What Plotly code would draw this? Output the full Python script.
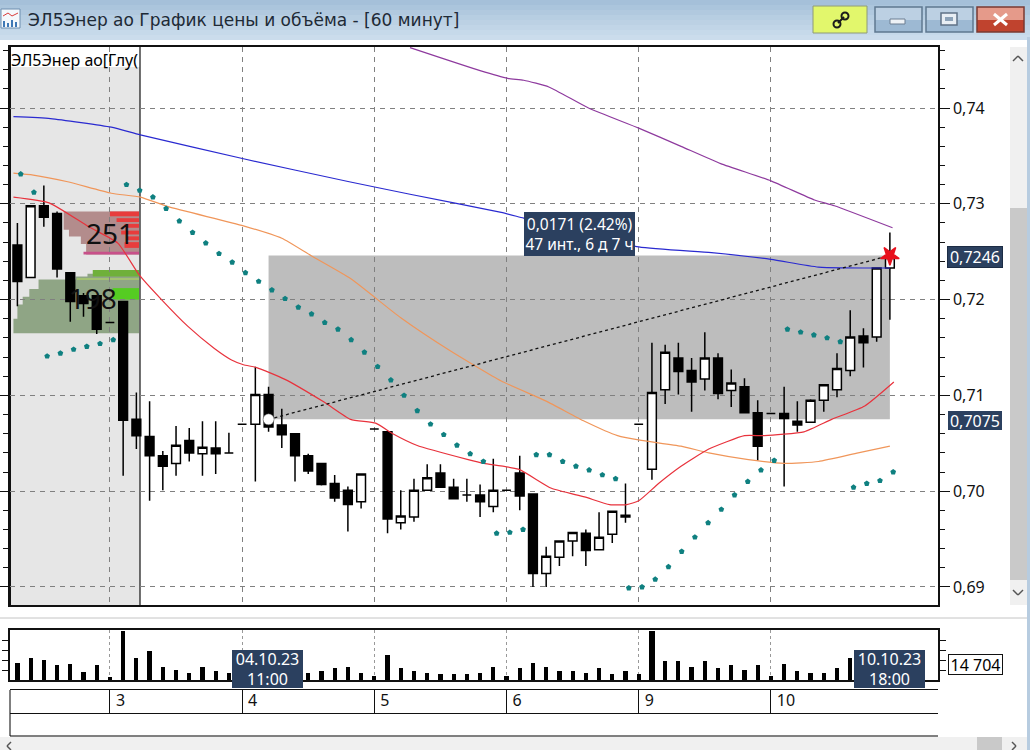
import plotly.graph_objects as go

W, H = 1030, 750

# OHLC, one candle per hour, index 0..66
opens = [.7257, .7223, .7298, .7290, .7228, .7204, .7204, .7176, .7198, .7075,
         .7057, .7037, .7029, .7053, .7039, .7045, .7040, .7070, .7070, .7101,
         .7069, .7060, .7037, .7029, .7008, .7001, .6989, .7065, .7062, .6967,
         .6973, .7001, .7019, .7004, .6996, .6996, .6984, .7001, .7019, .6997,
         .6914, .6931, .6948, .6956, .6939, .6955, .6975, .7070, .7023, .7106,
         .7139, .7126, .7117, .7139, .7105, .7109, .7082, .7081, .7081, .7073,
         .7072, .7095, .7106, .7126, .7162, .7161, .7233]
highs = [.7280, .7298, .7319, .7292, .7228, .7207, .7204, .7176, .7198, .7103,
         .7094, .7042, .7068, .7066, .7073, .7073, .7061, .7070, .7130, .7109,
         .7086, .7060, .7039, .7029, .7017, .7005, .7018, .7065, .7062, .7001,
         .7013, .7028, .7028, .7013, .7013, .7007, .7034, .7001, .7037, .6997,
         .6942, .6948, .6957, .6960, .6978, .6979, .7008, .7070, .7155, .7153,
         .7155, .7139, .7166, .7144, .7127, .7118, .7095, .7081, .7109, .7094,
         .7096, .7111, .7144, .7189, .7170, .7233, .7270]
lows = [.7193, .7223, .7276, .7223, .7177, .7182, .7164, .7176, .7016, .7044,
        .6990, .7001, .7016, .7031, .7016, .7018, .7040, .7070, .7010, .7062,
        .7045, .7010, .7018, .7006, .6989, .6958, .6982, .7065, .6956, .6960,
        .6968, .7001, .7004, .6992, .6989, .6973, .6978, .7001, .6980, .6900,
        .6900, .6922, .6932, .6922, .6939, .6946, .6967, .7070, .7012, .7091,
        .7101, .7083, .7105, .7096, .7088, .7082, .7032, .7081, .7005, .7062,
        .7072, .7083, .7098, .7120, .7129, .7156, .7179]
closes = [.7219, .7298, .7286, .7232, .7198, .7196, .7169, .7176, .7074, .7058,
          .7037, .7026, .7048, .7040, .7046, .7039, .7040, .7070, .7101, .7067,
          .7059, .7037, .7021, .7007, .6993, .6986, .7018, .7065, .6971, .6974,
          .7001, .7014, .7004, .6992, .6996, .6989, .7001, .7001, .6995, .6914,
          .6932, .6948, .6957, .6938, .6952, .6979, .6973, .7070, .7103, .7145,
          .7125, .7114, .7139, .7102, .7113, .7082, .7047, .7081, .7076, .7069,
          .7095, .7111, .7128, .7161, .7155, .7233, .7244]
volumes = [17300, 21900, 20600, 14700, 16000, 8500, 15400, 2900, 49000, 22200,
           29800, 13400, 10100, 7500, 13400, 9200, 7500, 3000, 12000, 10000,
           8000, 9000, 7500, 8800, 11800, 13400, 7500, 4300, 24900, 11800,
           8800, 7500, 6200, 6200, 6200, 7500, 13400, 4300, 11800, 17300,
           13400, 8800, 8800, 7500, 11800, 5900, 8800, 5900, 50000, 19000,
           19000, 13400, 19000, 11800, 14700, 10100, 14700, 4300, 16400, 8800,
           7500, 7500, 11800, 21900, 12000, 25000, 14704]

# moving averages, read at bends of each line
red_x = [-0.3, 2.4, 5.4, 7.6, 9.2, 10.9, 12.9, 14.9, 16.2, 17.1, 18.1, 20.2, 23.2, 25.2, 27.1, 28.4, 30.2,
         34.1, 35.3, 37.9, 40.4, 42.9, 44.8, 46.1, 47, 48.5, 50.2, 52.3, 55, 56.5, 59.5, 61.6, 64.1, 66.3]
red_y = [.7307, .7301, .7276, .7259, .7226, .7200, .7172, .7149, .7137, .7132, .7129, .7117, .7093, .7075, .7071, .7060, .7048,
         .7033, .7029, .7023, .7003, .6994, .6986, .6986, .6990, .7008, .7026, .7044, .7058, .7058, .7062, .7075, .7089, .7114]
orange_x = [-0.3, 1.2, 3.8, 7.1, 9.3, 11.4, 17.1, 20, 22.2, 25.2, 29, 32.8, 36.6, 40, 42.9, 45.4, 47.2, 50.2,
            52.3, 55.3, 58, 60.6, 63.6, 66]
orange_y = [.7332, .7330, .7323, .7311, .7307, .7297, .7277, .7264, .7246, .7222, .7181, .7146, .7115, .7094, .7073, .7058, .7053, .7047,
            .7040, .7033, .7029, .7031, .7040, .7047]
blue_x = [-0.3, 2.5, 7.1, 9.3, 17.1, 25.1, 29.7, 36.6, 38.3, 47, 52.5, 57, 60.6, 66]
blue_y = [.7391, .7389, .7380, .7372, .7347, .7323, .7310, .7291, .7285, .7255, .7249, .7242, .7234, .7233]
purple_x = [29.7, 35, 37.1, 38.3, 40.2, 43.2, 47, 50.2, 53.2, 57, 60.3, 61.8, 66.2]
purple_y = [.7463, .7439, .7431, .7429, .7422, .7400, .7379, .7360, .7342, .7324, .7304, .7298, .7275]

# parabolic SAR dots
sar_i = [0, 1, 2, 3, 4, 5, 6, 7, 8, 9, 10, 11, 12, 13, 14, 15, 16, 17, 18, 19, 20, 21, 22, 23, 24, 25,
         26, 27, 28, 29, 30, 31, 32, 33, 34, 35, 36, 37, 38, 39, 40, 41, 42, 43, 44, 45,
         46, 47, 48, 49, 50, 51, 52, 53, 54, 55, 56, 57, 58, 59, 60, 61, 62, 63, 64, 65, 66]
sar_y = [.7331, .7312, .7141, .7144, .7148, .7151, .7154, .7158, .7320, .7314, .7307, .7295, .7282, .7270,
         .7259, .7248, .7239, .7228, .7219, .7210, .7201, .7192, .7185, .7176, .7169, .7158,
         .7145, .7130, .7116, .7100, .7084, .7070, .7059, .7048, .7039, .7031, .6956, .6957, .6960,
         .7038, .7038, .7031, .7026, .7022, .7017, .7013,
         .6899, .6900, .6908, .6921, .6937, .6952, .6967, .6981, .6996, .7010, .7022, .7032,
         .7169, .7166, .7163, .7160, .7156, .7004, .7008, .7011, .7020]

# order book profile at the left edge
ask_x = [9.2, 3.5, 3.5, 3.9, 3.9, 4.8, 4.8, 5.2, 5.2, 9.2]
ask_y = [.7292, .7292, .7273, .7273, .7266, .7266, .7258, .7258, .7247, .7247]
bid_x = [9.2, -0.3, -0.3, 0.0, 0.0, 0.4, 0.4, 0.9, 0.9, 1.6, 1.6, 4.4, 4.4, 5.3, 5.3, 5.8, 5.8, 9.2]
bid_y = [.7165, .7165, .7180, .7180, .7195, .7195, .7203, .7203, .7211, .7211, .7221, .7221, .7224, .7224, .7227, .7227, .7231, .7231]
stripe_left = [7.0, 7.5, 8.1, 7.85, 8.3, 8.1, 5.0, 5.7, 4.5, 7.2]
stripe_top = [.7292, .7285, .7279, .7272, .7266, .7260, .7250, .7231, .7222, .7212]
stripe_bottom = [.7287, .7281, .7275, .7268, .7262, .7254, .7247, .7224, .7221, .7200]
stripe_color = ["#e83c3c"] * 6 + ["#c8508a", "#6fb03a", "#b8e060", "#55cc22"]
profile_right = 9.2

price_ticks = [.69, .70, .71, .72, .73, .74]
price_labels = ["0,69", "0,70", "0,71", "0,72", "0,73", "0,74"]
day_starts = [7, 17, 27, 37, 47, 57]
day_labels = ["3", "4", "5", "6", "9", "10"]

# measured segment
seg_x = [19, 66]
seg_y = [.7075, .7246]

INDEX = list(range(len(closes)))
X_RANGE = [-0.56, 69.64]
PLOT_X = [10 / W, 938 / W]
FONT = "Noto Sans"
NAVY = "#2b405f"
GRID = "#808080"


def px_rect(x0, y0, x1, y1, fill=None, line=None, width=1):
    """прямоугольник в пикселях окна"""
    return dict(type="rect", xref="paper", yref="paper", layer="below",
                x0=x0 / W, x1=x1 / W, y0=1 - y0 / H, y1=1 - y1 / H,
                fillcolor=fill or "rgba(0,0,0,0)",
                line=dict(color=line or "rgba(0,0,0,0)", width=width if line else 0))


def px_line(x0, y0, x1, y1, color="#000000", width=1):
    return dict(type="line", xref="paper", yref="paper", layer="below",
                x0=x0 / W, x1=x1 / W, y0=1 - y0 / H, y1=1 - y1 / H,
                line=dict(color=color, width=width))


def px_text(x, y, text, size=14, color="#000000", anchor="left", bg=None, border=None, w=None, h=None, family=FONT):
    return dict(xref="paper", yref="paper", x=x / W, y=1 - y / H, text=text, showarrow=False,
                xanchor=anchor, yanchor="middle", align="center", width=w, height=h,
                font=dict(family=family, size=size, color=color),
                bgcolor=bg, bordercolor=border, borderwidth=1 if border else 0, borderpad=0)


def domain_y(top, bottom):
    return [1 - bottom / H, 1 - top / H]


def chrome_shapes():
    """заголовок окна, кнопки и полосы прокрутки"""
    s = []
    # title bar gradient
    bands = ["#a5c0d9", "#abc5dc", "#b1c9df", "#b7cee2", "#bcd1e4", "#c1d5e7", "#c6d9ea", "#cbdcec"]
    for k, c in enumerate(bands):
        s.append(px_rect(0, k * 5, W, (k + 1) * 5, fill=c))
    # window icon
    s.append(px_rect(1, 9, 20, 28, fill="#f4f8fc", line="#6f8fb0"))
    s.append(px_line(3, 16, 8, 13, "#d83a3a", 1))
    s.append(px_line(8, 13, 12, 16, "#d83a3a", 1))
    s.append(px_line(12, 16, 18, 13, "#d83a3a", 1))
    for bx, top in [(4, 21), (8, 23), (12, 20), (16, 22)]:
        s.append(px_line(bx, top, bx, 27, "#3f78b5", 2))
    # link button
    s.append(px_rect(813, 6, 867, 33, fill="#e2f76c", line="#8e9a78"))
    s.append(px_line(838, 23, 844, 17, "#1c1c1c", 2))
    for cx, cy in [(837, 24), (845, 16)]:
        s.append(dict(type="circle", xref="paper", yref="paper", layer="below",
                      x0=(cx - 3.5) / W, x1=(cx + 3.5) / W, y0=1 - (cy + 3.5) / H, y1=1 - (cy - 3.5) / H,
                      line=dict(color="#1c1c1c", width=2)))
    # min / max / close
    for x0, x1, top, low, edge in [(875, 922, "#bcd0e3", "#9db9d3", "#5f7890"),
                                   (926, 973, "#bcd0e3", "#9db9d3", "#5f7890"),
                                   (977, 1024, "#e59a8a", "#c0432e", "#7a3a32")]:
        s.append(px_rect(x0, 7, x1, 20, fill=top))
        s.append(px_rect(x0, 20, x1, 32, fill=low))
        s.append(px_rect(x0, 7, x1, 32, line=edge, width=1.5))
    s.append(px_rect(890, 19, 905, 24, fill="#eef2f6", line="#6d7f92"))
    s.append(px_rect(941, 13, 957, 25, fill="#e8eef4", line="#5f7286", width=1.5))
    s.append(px_rect(945, 17, 953, 21, fill="#8ca2b8"))
    s.append(px_line(994, 14, 1007, 25, "#ffffff", 3))
    s.append(px_line(1007, 14, 994, 25, "#ffffff", 3))
    # right border and scrollbars
    s.append(px_rect(1027, 37, W, H, fill="#b7cce0"))
    s.append(px_rect(1010, 47, 1027, 605, fill="#f0f0f0"))
    s.append(px_rect(1010, 208, 1027, 580, fill="#c9c9c9"))
    s.append(px_line(1013, 61, 1018, 56, "#555555", 1.5))
    s.append(px_line(1018, 56, 1023, 61, "#555555", 1.5))
    s.append(px_line(1013, 590, 1018, 595, "#555555", 1.5))
    s.append(px_line(1018, 595, 1023, 590, "#555555", 1.5))
    s.append(px_line(0, 618, 1027, 618, "#c4c4c4", 1))
    s.append(px_rect(0, 737, 1027, H, fill="#f0f0f0"))
    s.append(px_rect(977, 737, 1002, H, fill="#c9c9c9"))
    s.append(px_line(11, 742, 7, 746, "#555555", 1.5))
    s.append(px_line(7, 746, 11, 750, "#555555", 1.5))
    s.append(px_line(1012, 742, 1016, 746, "#555555", 1.5))
    s.append(px_line(1016, 746, 1012, 750, "#555555", 1.5))
    # rows under the volume pane
    s.append(px_line(10, 690, 10, 736, "#000000", 1))
    s.append(px_line(10, 736, 938, 736, "#000000", 1))
    return s


def profile_shapes():
    """серый фон слева, стакан и выделенный диапазон"""
    s = [px_rect(10, 67, 140, 605, fill="#e6e6e6")]
    s.append(dict(type="rect", xref="x", yref="y", layer="below",
                  x0=seg_x[0], x1=seg_x[1], y0=seg_y[0], y1=seg_y[1],
                  fillcolor="#bdbdbd", line=dict(width=0)))
    for xs, ys, color in [(ask_x, ask_y, "#b38c8c"), (bid_x, bid_y, "#8fa585")]:
        path = "M " + " L ".join(f"{a} {b}" for a, b in zip(xs, ys)) + " Z"
        s.append(dict(type="path", xref="x", yref="y", layer="below", path=path,
                      fillcolor=color, line=dict(width=0)))
    for left, top, bottom, color in zip(stripe_left, stripe_top, stripe_bottom, stripe_color):
        s.append(dict(type="rect", xref="x", yref="y", layer="below",
                      x0=left, x1=profile_right, y0=bottom, y1=top,
                      fillcolor=color, line=dict(width=0)))
    # cursor line of the book, thick left frame
    s.append(px_line(140, 47, 140, 605, "#111111", 1.2))
    s.append(px_line(10, 47, 10, 606, "#111111", 2))
    return s


fig = go.Figure()

fig.add_trace(go.Candlestick(
    x=INDEX, open=opens, high=highs, low=lows, close=closes,
    increasing=dict(line=dict(color="#000000", width=1.5), fillcolor="#ffffff"),
    decreasing=dict(line=dict(color="#000000", width=1.5), fillcolor="#000000"),
    whiskerwidth=0, showlegend=False, hoverinfo="skip",
))

for xs, ys, color in [(purple_x, purple_y, "#8e3a9e"), (blue_x, blue_y, "#2a2ad0"),
                      (orange_x, orange_y, "#f0965a"), (red_x, red_y, "#e8323c")]:
    fig.add_trace(go.Scatter(x=xs, y=ys, mode="lines", line=dict(color=color, width=1.2, shape="spline", smoothing=0.5),
                             showlegend=False, hoverinfo="skip"))

fig.add_trace(go.Scatter(x=[i + 0.25 for i in sar_i], y=sar_y, mode="markers",
                         marker=dict(symbol="pentagon", size=6, color="#0f8080"),
                         showlegend=False, hoverinfo="skip"))

fig.add_trace(go.Scatter(x=seg_x, y=seg_y, mode="lines", line=dict(color="#111111", width=1.3, dash="3px,3px"),
                         showlegend=False, hoverinfo="skip"))
fig.add_trace(go.Scatter(x=seg_x[:1], y=seg_y[:1], mode="markers",
                         marker=dict(symbol="circle", size=11, color="#ffffff", line=dict(color="#444444", width=0.5)),
                         showlegend=False, hoverinfo="skip"))
fig.add_trace(go.Scatter(x=seg_x[1:], y=seg_y[1:], mode="markers",
                         marker=dict(symbol="star", size=14, angle=180, color="#e8101c",
                                     line=dict(color="#e8101c", width=1.5)),
                         showlegend=False, hoverinfo="skip"))

# bid/ask totals printed over the profile
fig.add_trace(go.Scatter(x=[7.0, 5.7], y=[.7265, .7198], mode="text", text=["251", "198"],
                         textposition="middle center", textfont=dict(family=FONT, size=28, color="#111111"),
                         showlegend=False, hoverinfo="skip"))

fig.add_trace(go.Bar(x=INDEX, y=volumes, xaxis="x2", yaxis="y2", marker=dict(color="#000000", line=dict(width=0)),
                     width=[0.5 if v >= 50000 else 0.32 for v in volumes], showlegend=False, hoverinfo="skip"))

fig.add_trace(go.Scatter(x=[d + 0.45 for d in day_starts], y=[0.5] * len(day_starts), xaxis="x3", yaxis="y3",
                         mode="text", text=day_labels, textposition="middle right",
                         textfont=dict(family=FONT, size=16, color="#111111"),
                         showlegend=False, hoverinfo="skip"))

x_common = dict(range=X_RANGE, showticklabels=False, ticks="", zeroline=False, tickmode="array", tickvals=day_starts)

fig.update_layout(
    width=W, height=H, autosize=False,
    margin=dict(l=0, r=0, t=0, b=0, pad=0, autoexpand=False),
    paper_bgcolor="#ffffff", plot_bgcolor="rgba(0,0,0,0)",
    boxgap=0.05, bargap=0, hovermode=False, showlegend=False,
    font=dict(family=FONT, color="#111111"),
    xaxis=dict(domain=PLOT_X, anchor="y", showgrid=True, gridcolor=GRID, griddash="5px,5px", gridwidth=1,
               showline=True, mirror=True, linecolor="#111111", linewidth=1.5,
               rangeslider=dict(visible=False), **x_common),
    yaxis=dict(domain=domain_y(47, 605), anchor="x", side="right", range=[.68812, .74637],
               tickmode="array", tickvals=price_ticks, ticktext=price_labels,
               tickfont=dict(family=FONT, size=16, color="#111111"),
               ticks="outside", ticklen=10, tickcolor="#111111", tickwidth=1,
               minor=dict(dtick=0.002, tick0=.69, ticks="outside", ticklen=5, tickcolor="#111111", tickwidth=1, showgrid=False),
               showgrid=True, gridcolor=GRID, griddash="5px,5px", gridwidth=1,
               showline=True, mirror="ticks", linecolor="#111111", linewidth=1.5, zeroline=False),
    xaxis2=dict(domain=PLOT_X, anchor="y2", showgrid=True, gridcolor="#999999", griddash="3px,3px", gridwidth=1,
                showline=True, mirror=True, linecolor="#111111", linewidth=1.5, **x_common),
    yaxis2=dict(domain=domain_y(630, 680), anchor="x2", side="right", range=[0, 50500],
                tickmode="array", tickvals=[10000, 20000, 30000, 40000], showticklabels=False,
                ticks="outside", ticklen=6, tickcolor="#111111", showgrid=False,
                showline=True, mirror="ticks", linecolor="#111111", linewidth=1.5, zeroline=False),
    xaxis3=dict(domain=PLOT_X, anchor="y3", showgrid=True, gridcolor="#111111", griddash="solid", gridwidth=1,
                showline=True, mirror=True, linecolor="#111111", linewidth=1, **x_common),
    yaxis3=dict(domain=domain_y(690, 713), anchor="x3", range=[0, 1], showticklabels=False, ticks="",
                showgrid=False, zeroline=False),
    shapes=chrome_shapes() + profile_shapes(),
    annotations=[
        px_text(28, 20, "ЭЛ5Энер ао График цены и объёма - [60 минут]", size=17, color="#1e2a36", family="DejaVu Sans"),
        px_text(11, 60, "ЭЛ5Энер ао[Глу(", size=16),
        px_text(579, 234, "0,0171 (2.42%)<br>47 инт., 6 д 7 ч", size=15.5, color="#ffffff", anchor="center",
                bg=NAVY, w=111, h=44),
        px_text(975, 257, "0,7246", size=16, color="#ffffff", anchor="center", bg=NAVY, border="#1c2c44", w=54, h=20),
        px_text(975, 420, "0,7075", size=16, color="#ffffff", anchor="center", bg=NAVY, w=54, h=19),
        px_text(975, 664, "14 704", size=16, anchor="center", bg="#ffffff", border="#111111", w=53, h=19),
        px_text(267, 669, "04.10.23<br>11:00", size=16, color="#ffffff", anchor="center", bg=NAVY, w=71, h=38),
        px_text(889, 669, "10.10.23<br>18:00", size=16, color="#ffffff", anchor="center", bg=NAVY, w=71, h=38),
    ],
)

fig.write_html("out.html", config=dict(displayModeBar=False),
               post_script="document.body.style.margin='0';document.body.style.overflow='hidden';")
